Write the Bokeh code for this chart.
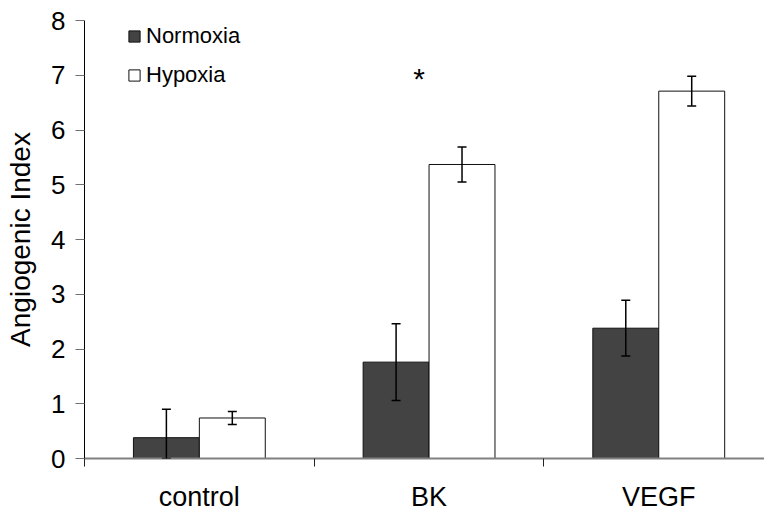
from bokeh.plotting import figure
from bokeh.models import (ColumnDataSource, Range1d, FixedTicker, Whisker, TeeHead,
                          Legend, LegendItem)
from bokeh.core.properties import value
from bokeh.embed import file_html
from bokeh.resources import INLINE

# ---- data ----
categories = ["control", "BK", "VEGF"]
normoxia = [0.38, 1.76, 2.38]
normoxia_err = [0.52, 0.70, 0.51]
hypoxia = [0.74, 5.37, 6.71]
hypoxia_err = [0.12, 0.32, 0.27]
significance = ["", "*", ""]
sig_y = 7.0
y_ticks = [0, 1, 2, 3, 4, 5, 6, 7, 8]

FONT = "Liberation Sans"
BAR_W = 0.287
centers = [i + 0.5 for i in range(len(categories))]

W, H = 764, 514
LEFT, TOP, BOTTOM = 84, 20, 54
UNIT = 229.7

p = figure(width=W, height=H, output_backend="svg", toolbar_location=None,
           x_range=Range1d(0, (W - LEFT) / UNIT), y_range=Range1d(0, 8),
           min_border_left=LEFT, min_border_right=0, min_border_top=TOP,
           min_border_bottom=BOTTOM)
p.outline_line_color = None
p.xgrid.visible = False
p.ygrid.visible = False

src_n = ColumnDataSource(dict(
    x=[c - BAR_W / 2 for c in centers], top=normoxia,
    upper=[v + e for v, e in zip(normoxia, normoxia_err)],
    lower=[max(0, v - e) for v, e in zip(normoxia, normoxia_err)]))
src_h = ColumnDataSource(dict(
    x=[c + BAR_W / 2 for c in centers], top=hypoxia,
    upper=[v + e for v, e in zip(hypoxia, hypoxia_err)],
    lower=[max(0, v - e) for v, e in zip(hypoxia, hypoxia_err)]))

rn = p.vbar(x="x", top="top", bottom=0, width=BAR_W, source=src_n,
            fill_color="#434343", line_color="#111111", line_width=1)
rh = p.vbar(x="x", top="top", bottom=0, width=BAR_W, source=src_h,
            fill_color="white", line_color="#111111", line_width=1)

for s in (src_n, src_h):
    w = Whisker(base="x", upper="upper", lower="lower", source=s, dimension="height",
                line_color="black", line_width=1.5, level="overlay",
                upper_head=TeeHead(size=9, line_color="black", line_width=1.5),
                lower_head=TeeHead(size=9, line_color="black", line_width=1.5))
    p.add_layout(w)

# significance mark
p.text(x=centers, y=[sig_y] * len(centers), text=significance,
       text_font=value(FONT), text_font_size="30px", text_color="black",
       text_align="center", text_baseline="middle", x_offset=-10, y_offset=3)

# axes
xa = p.xaxis[0]
xa.ticker = FixedTicker(ticks=centers, minor_ticks=[0, 1, 2, 3])
xa.major_label_overrides = {c: lab for c, lab in zip(centers, categories)}
xa.major_tick_out = 0
xa.major_tick_in = 0
xa.minor_tick_out = 8
xa.minor_tick_in = 0
xa.minor_tick_line_color = "#222222"
xa.axis_line_color = "#808080"
xa.axis_line_width = 2
xa.major_label_standoff = 15
xa.major_label_text_font = FONT
xa.major_label_text_font_size = "27px"
xa.major_label_text_color = "black"

ya = p.yaxis[0]
ya.ticker = FixedTicker(ticks=y_ticks, minor_ticks=[])
ya.major_tick_out = 9
ya.major_tick_in = 0
ya.major_tick_line_color = "#707070"
ya.axis_line_color = "black"
ya.axis_line_width = 1
ya.major_label_standoff = 10
ya.major_label_text_font = FONT
ya.major_label_text_font_size = "26px"
ya.major_label_text_color = "black"
ya.axis_label = "Angiogenic Index"
ya.axis_label_text_font = FONT
ya.axis_label_text_font_size = "28px"
ya.axis_label_text_font_style = "normal"
ya.axis_label_text_color = "black"
ya.axis_label_standoff = 12

legend = Legend(items=[LegendItem(label="Normoxia", renderers=[rn]),
                       LegendItem(label="Hypoxia", renderers=[rh])],
                location=(43, 370), orientation="vertical",
                glyph_width=14, glyph_height=14, label_standoff=5,
                label_text_font=FONT, label_text_font_size="22px",
                label_text_color="black", spacing=13, padding=0, margin=0,
                border_line_alpha=0, background_fill_alpha=0)
p.add_layout(legend)

open("out.html", "w").write(file_html(p, INLINE))
